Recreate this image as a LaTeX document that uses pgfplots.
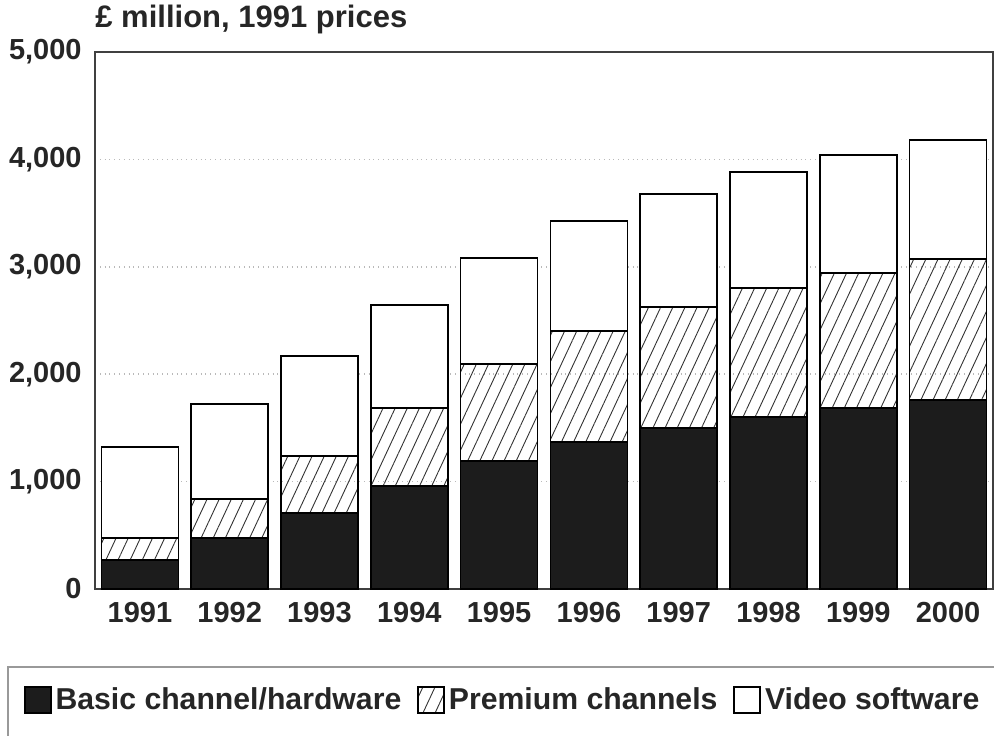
\documentclass[border=0pt]{standalone}
\usepackage{fontspec}
\setmainfont{Liberation Sans}
\usepackage{pgfplots}
\pgfplotsset{compat=1.18}
\usetikzlibrary{patterns.meta}
\definecolor{barblack}{HTML}{1C1C1C}

\pgfplotstableread{
x basic premium video
0 270  205  845
1 475  363  885
2 708  530  931
3 959  726  959
4 1192 903  987
5 1369 1033 1024
6 1499 1127 1052
7 1601 1202 1080
8 1685 1257 1099
9 1760 1313 1108
}\datatable

\begin{document}
\begin{tikzpicture}
\begin{axis}[
    at={(0pt,0pt)}, anchor=south west,
    scale only axis,
    width=449pt, height=268.5pt,
    ybar stacked,
    bar width=38.5pt,
    xmin=-0.5, xmax=9.5,
    ymin=0, ymax=5000,
    xtick=data,
    xticklabels={1991,1992,1993,1994,1995,1996,1997,1998,1999,2000},
    ytick={0,1000,2000,3000,4000,5000},
    major tick length=0pt,
    ymajorgrids=true,
    grid style={dotted, line width=0.8pt, gray!55},
    axis line style={black!75, line width=0.8pt},
    /pgf/number format/assume math mode=true,
    /pgf/number format/1000 sep={,},
    scaled y ticks=false,
    tick label style={font=\fontsize{14.5}{16}\selectfont\bfseries, text=black!85},
    yticklabel style={anchor=east, inner sep=0pt, xshift=-6.5pt},
    xticklabel style={anchor=north, inner sep=0pt, yshift=-6.5pt},
    legend columns=-1,
    legend style={
        draw=none, fill=none, inner sep=0pt, outer sep=0pt,
        at={(-0.0791,-0.2067)}, anchor=west,
        font=\fontsize{15.1}{17}\selectfont\bfseries,
        text=black!85,
        nodes={inner xsep=2pt, inner ysep=0pt},
        /tikz/every even column/.append style={column sep=6pt},
    },
    legend image code/.code={\draw[#1, line width=0.8pt] (0pt,-6.5pt) rectangle (13pt,6.5pt);},
]
\addplot[draw=black, line width=0.8pt, fill=barblack] table[x=x, y=basic] {\datatable};
\addplot[draw=black, line width=0.8pt, pattern={Lines[angle=65, distance=5.5pt, line width=0.45pt]}, pattern color=black!80] table[x=x, y=premium] {\datatable};
\addplot[draw=black, line width=0.8pt, fill=white] table[x=x, y=video] {\datatable};
\legend{Basic channel/hardware, Premium channels, Video software}
\end{axis}
\node[anchor=base west, inner sep=0pt, font=\fontsize{15.5}{17}\selectfont\bfseries, text=black!85] at (0pt,280.5pt) {£ million, 1991 prices};
\draw[gray!80, line width=0.6pt] (-43.5pt,-90pt) -- (-43.5pt,-39pt) -- (470pt,-39pt);
\pgfresetboundingbox
\useasboundingbox (-47.5pt,-73pt) rectangle (449.5pt,294.5pt);
\end{tikzpicture}
\end{document}
